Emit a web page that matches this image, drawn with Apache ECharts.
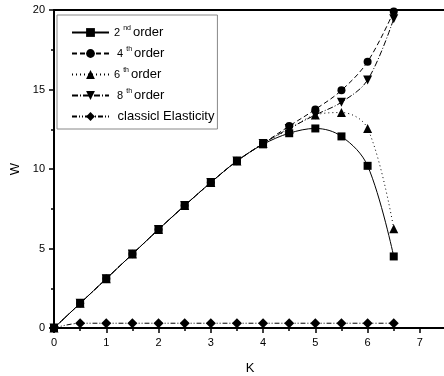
<!DOCTYPE html>
<html>
<head>
<meta charset="utf-8">
<script src="https://cdn.jsdelivr.net/npm/echarts@6/dist/echarts.min.js"></script>
<style>
html, body { margin: 0; padding: 0; background: #fff; }
#chart { width: 444px; height: 376px; }
</style>
</head>
<body>
<div id="chart"></div>
<script>
// K values
var kValues = [0, 0.5, 1, 1.5, 2, 2.5, 3, 3.5, 4, 4.5, 5, 5.5, 6, 6.5];

// W for each order
var order2 = [0, 1.55, 3.1, 4.65, 6.2, 7.7, 9.15, 10.5, 11.55, 12.25, 12.55, 12.05, 10.2, 4.5];
var order4 = [0, 1.55, 3.1, 4.65, 6.2, 7.7, 9.15, 10.5, 11.6, 12.7, 13.75, 14.95, 16.75, 19.9];
var order6 = [0, 1.55, 3.1, 4.65, 6.2, 7.7, 9.15, 10.5, 11.6, 12.5, 13.4, 13.55, 12.55, 6.25];
var order8 = [0, 1.55, 3.1, 4.65, 6.2, 7.7, 9.15, 10.5, 11.6, 12.55, 13.4, 14.2, 15.6, 19.45];
var classic = [0, 0.3, 0.3, 0.3, 0.3, 0.3, 0.3, 0.3, 0.3, 0.3, 0.3, 0.3, 0.3, 0.3];

var xTicks = [0, 1, 2, 3, 4, 5, 6, 7];
var yTicks = [0, 5, 10, 15, 20];

function pairs(ys) {
	var out = [];
	for (var i = 0; i < kValues.length; i++) {
		out.push([kValues[i], ys[i]]);
	}
	return out;
}

var legendText = {
	'2nd order': '{n|2 }{s|nd}{o|order}',
	'4th order': '{n| 4 }{s|th}{o|order}',
	'6th order': '{n|6 }{s|th}{o|order}',
	'8th order': '{n| 8 }{s|th}{o|order}',
	'classicl Elasticity': '{o| classicl Elasticity}'
};

var myChart = echarts.init(document.getElementById('chart'));

function makeSeries(name, ys, symbol, dash, size, rotate) {
	return {
		name: name,
		type: 'line',
		data: pairs(ys),
		smooth: 0.35,
		symbol: symbol,
		symbolSize: size,
		symbolRotate: rotate || 0,
		color: '#000',
		lineStyle: { color: '#000', width: 1, type: dash },
		itemStyle: { color: '#000' },
		animation: false
	};
}

var option = {
	backgroundColor: '#fff',
	grid: { left: 54, top: 10, bottom: 48, width: 392, outerBoundsMode: 'none', containLabel: false },
	legend: {
		orient: 'vertical',
		left: 57,
		top: 15,
		padding: [10, 3, 5, 14],
		itemWidth: 37,
		itemHeight: 11,
		itemGap: 6,
		borderColor: '#888',
		borderWidth: 1,
		data: ['2nd order', '4th order', '6th order', '8th order', 'classicl Elasticity'],
		formatter: function (name) { return legendText[name]; },
		textStyle: {
			color: '#000',
			fontFamily: 'Liberation Sans',
			lineHeight: 15,
			rich: {
				n: { fontSize: 11, fontFamily: 'Liberation Sans', color: '#000', lineHeight: 15 },
				s: { fontSize: 7, fontFamily: 'Liberation Sans', color: '#000', verticalAlign: 'top', padding: [0, 2, 6, 0], lineHeight: 15 },
				o: { fontSize: 13, fontFamily: 'Liberation Sans', color: '#000', lineHeight: 15 }
			}
		}
	},
	xAxis: [{
		type: 'value',
		min: 0,
		max: 7.5,
		interval: 1,
		name: 'K',
		nameLocation: 'middle',
		nameGap: 34,
		nameTextStyle: { fontSize: 13, fontFamily: 'Liberation Sans', color: '#000' },
		axisLine: { onZero: false, lineStyle: { color: '#000', width: 2 } },
		axisTick: { length: 5, lineStyle: { color: '#000', width: 1.5 } },
		minorTick: { show: true, splitNumber: 2, length: 3, lineStyle: { color: '#000', width: 1.5 } },
		axisLabel: {
			margin: 9, fontSize: 11, fontFamily: 'Liberation Sans', color: '#000',
			showMaxLabel: false,
			formatter: function (v) { return xTicks.indexOf(v) >= 0 ? String(v) : ''; }
		},
		splitLine: { show: false }
	}, {
		type: 'value',
		position: 'top',
		min: 0,
		max: 7.5,
		axisLine: { show: true, onZero: false, lineStyle: { color: '#000', width: 2 } },
		axisTick: { show: false },
		axisLabel: { show: false },
		splitLine: { show: false }
	}],
	yAxis: {
		type: 'value',
		min: 0,
		max: 20,
		interval: 5,
		name: 'W',
		nameLocation: 'middle',
		nameGap: 31,
		nameTextStyle: { fontSize: 13, fontFamily: 'Liberation Sans', color: '#000' },
		axisLine: { show: true, onZero: false, lineStyle: { color: '#000', width: 2 } },
		axisTick: { length: 5, lineStyle: { color: '#000', width: 1.5 } },
		minorTick: { show: true, splitNumber: 2, length: 3, lineStyle: { color: '#000', width: 1.5 } },
		axisLabel: {
			margin: 9, fontSize: 11, fontFamily: 'Liberation Sans', color: '#000',
			formatter: function (v) { return yTicks.indexOf(v) >= 0 ? String(v) : ''; }
		},
		splitLine: { show: false }
	},
	series: [
		makeSeries('2nd order', order2, 'rect', 'solid', 8),
		makeSeries('4th order', order4, 'circle', [5, 3], 8),
		makeSeries('6th order', order6, 'triangle', [1, 3], 9),
		makeSeries('8th order', order8, 'triangle', [6, 2, 1, 2], 9, 180),
		makeSeries('classicl Elasticity', classic, 'diamond', [5, 2, 1, 2, 1, 2], 10)
	]
};

myChart.setOption(option);
</script>
</body>
</html>
